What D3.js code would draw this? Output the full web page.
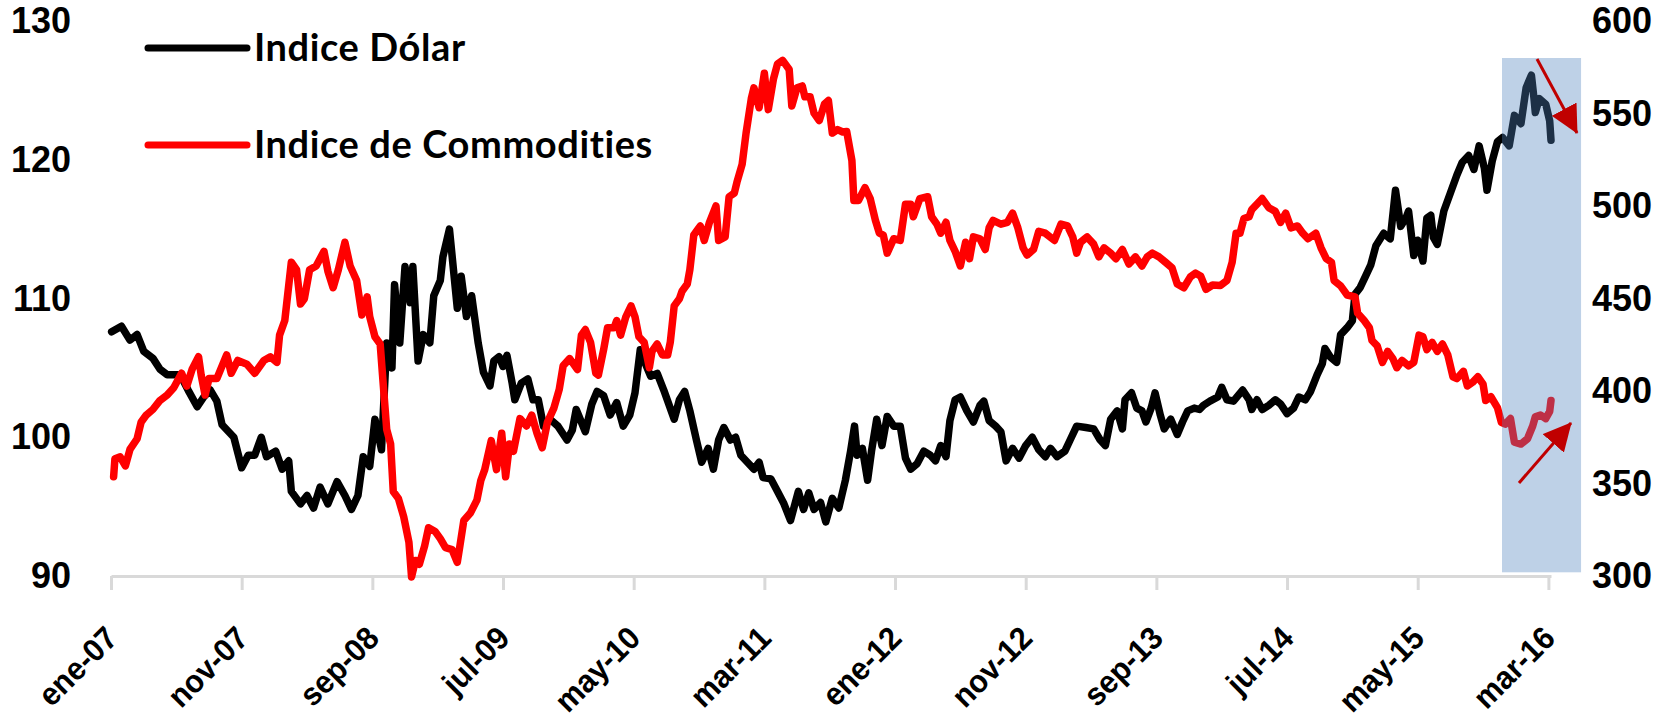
<!DOCTYPE html>
<html>
<head>
<meta charset="utf-8">
<script src="https://cdn.jsdelivr.net/npm/d3@7"></script>
<style>
  html, body { margin: 0; padding: 0; background: #fff; }
  svg { display: block; font-family: Lato, "Open Sans", sans-serif; font-weight: bold; font-variant-ligatures: none; }
</style>
</head>
<body>
<svg id="chart" width="1657" height="723"></svg>
<script>
// months counted from ene-07 (0 = 1 Jan 2007)
const tickMonths = [0, 10, 20, 30, 40, 50, 60, 70, 80, 90, 100, 110];
const tickLabels = ['ene-07', 'nov-07', 'sep-08', 'jul-09', 'may-10', 'mar-11',
                    'ene-12', 'nov-12', 'sep-13', 'jul-14', 'may-15', 'mar-16'];
const leftTicks  = [90, 100, 110, 120, 130];
const rightTicks = [300, 350, 400, 450, 500, 550, 600];
const seriesNames = ['Indice Dólar', 'Indice de Commodities'];

const dollarMonths = [
    0.05, 0.8, 1.45, 2.0, 2.5, 3.2, 3.75, 4.3, 5.3, 5.9,
    6.6, 7.1, 7.6, 8.1, 8.5, 9.4, 10.0, 10.5, 11.0, 11.5,
    11.9, 12.6, 13.1, 13.6, 13.8, 14.5, 15.0, 15.5, 16.0, 16.6,
    17.3, 17.9, 18.4, 18.9, 19.3, 19.8, 20.2, 20.7, 21.1, 21.5,
    21.7, 22.1, 22.5, 22.9, 23.1, 23.5, 23.9, 24.4, 24.7, 25.2,
    25.4, 25.9, 26.5, 26.8, 27.2, 27.6, 28.1, 28.5, 29.0, 29.3,
    29.7, 30.0, 30.3, 30.7, 30.9, 31.4, 31.9, 32.3, 32.7, 33.1,
    33.6, 34.2, 34.9, 35.3, 35.6, 36.3, 36.8, 37.2, 37.7, 38.2,
    38.7, 39.2, 39.7, 40.1, 40.5, 40.9, 41.3, 41.8, 42.3, 43.1,
    43.5, 43.9, 44.3, 44.8, 45.2, 45.7, 46.1, 46.5, 46.9, 47.4,
    47.8, 48.2, 48.7, 49.2, 49.6, 49.9, 50.5, 51.0, 51.5, 52.0,
    52.6, 53.0, 53.4, 53.8, 54.3, 54.7, 55.2, 55.7, 56.2, 56.6,
    56.9, 57.1, 57.5, 57.9, 58.2, 58.6, 59.0, 59.4, 59.9, 60.4,
    60.8, 61.2, 61.7, 62.2, 62.7, 63.1, 63.5, 63.9, 64.2, 64.6,
    65.0, 65.5, 66.0, 66.5, 66.8, 67.2, 67.7, 68.1, 68.5, 69.0,
    69.5, 70.0, 70.5, 71.0, 71.5, 71.9, 72.4, 73.0, 73.4, 73.9,
    74.6, 75.2, 75.7, 76.1, 76.5, 77.0, 77.4, 77.6, 78.1, 78.5,
    78.9, 79.2, 79.6, 79.9, 80.3, 80.6, 81.1, 81.6, 82.0, 82.4,
    82.9, 83.3, 83.6, 84.1, 84.7, 85.0, 85.4, 85.9, 86.6, 87.1,
    87.3, 87.7, 88.1, 88.6, 89.1, 89.5, 90.0, 90.5, 90.9, 91.4,
    91.8, 92.3, 92.7, 92.9, 93.3, 93.8, 94.1, 94.6, 95.0, 95.2,
    95.6, 96.0, 96.4, 96.8, 97.4, 97.9, 98.3, 98.7, 99.1, 99.3,
    99.7, 100.0, 100.4, 100.7, 101.0, 101.2, 101.5, 102.0, 102.5, 103.0,
    103.4, 103.9, 104.3, 104.7, 105.1, 105.3, 105.7, 106.1, 106.5, 107.0,
    107.4, 107.9, 108.3, 108.7, 108.9, 109.0, 109.3, 109.8, 110.1, 110.2
];
const dollarValues = [
    107.6, 108.0, 107.0, 107.4, 106.2, 105.7, 104.9, 104.5, 104.5, 103.4,
    102.2, 102.9, 103.4, 102.6, 100.9, 100.0, 97.8, 98.7, 98.7, 100.0,
    98.6, 99.0, 97.7, 98.3, 96.1, 95.2, 95.8, 94.9, 96.4, 95.2,
    96.8, 95.8, 94.8, 95.8, 98.6, 97.9, 101.3, 99.1, 106.8, 105.0,
    111.0, 106.8, 112.3, 109.7, 112.3, 105.5, 107.4, 106.8, 110.2, 111.3,
    113.0, 115.0, 109.3, 111.6, 108.7, 110.2, 106.8, 104.7, 103.7, 105.5,
    105.8, 105.1, 105.9, 103.9, 102.7, 103.9, 104.2, 102.7, 102.7, 100.8,
    101.3, 100.8, 99.8, 100.5, 102.0, 100.4, 102.4, 103.3, 103.0, 101.6,
    102.5, 100.8, 101.6, 103.2, 106.3, 105.3, 104.4, 104.6, 103.4, 101.3,
    102.7, 103.3, 101.9, 99.8, 98.2, 99.2, 97.7, 99.8, 100.7, 99.8,
    100.0, 98.7, 98.2, 97.7, 98.2, 97.1, 97.0, 96.1, 95.2, 94.0,
    96.1, 94.8, 96.0, 94.8, 95.3, 93.9, 95.6, 94.9, 96.9, 99.0,
    100.8, 98.7, 99.2, 96.9, 99.0, 101.3, 99.4, 101.5, 100.8, 100.8,
    98.5, 97.7, 98.1, 99.0, 98.7, 98.3, 99.4, 98.6, 101.2, 102.7,
    102.9, 101.9, 101.1, 102.3, 102.6, 101.2, 100.8, 100.4, 98.3, 99.2,
    98.5, 99.4, 100.0, 99.1, 98.6, 99.2, 98.6, 99.0, 99.8, 100.8,
    100.7, 100.6, 99.8, 99.4, 101.3, 101.9, 100.6, 102.7, 103.2, 102.1,
    101.9, 101.1, 102.1, 103.2, 101.6, 100.6, 101.3, 100.2, 101.1, 101.9,
    102.1, 102.0, 102.3, 102.6, 102.9, 103.6, 102.7, 102.6, 103.4, 102.7,
    102.0, 102.7, 102.0, 102.3, 102.7, 102.4, 101.7, 102.1, 102.9, 102.7,
    103.3, 104.5, 105.3, 106.4, 105.8, 105.4, 107.4, 107.9, 108.4, 110.3,
    110.8, 111.6, 112.4, 113.8, 114.7, 114.3, 117.8, 115.2, 115.8, 116.3,
    113.1, 114.2, 112.7, 115.8, 116.0, 114.4, 113.9, 116.3, 117.6, 118.9,
    119.8, 120.3, 119.3, 121.0, 119.4, 117.8, 119.9, 121.3, 121.6, 121.0,
    123.2, 122.6, 125.2, 126.1, 124.4, 123.4, 124.4, 124.0, 122.8, 121.4
];

const commMonths = [
    0.2, 0.3, 0.7, 1.1, 1.45, 2.0, 2.3, 2.7, 3.2, 3.75,
    4.3, 4.8, 5.4, 5.8, 6.2, 6.7, 6.9, 7.2, 7.5, 8.1,
    8.85, 9.2, 9.7, 10.4, 11.0, 11.7, 12.2, 12.7, 12.9, 13.3,
    13.8, 14.2, 14.5, 14.8, 15.2, 15.7, 16.3, 16.6, 17.0, 17.4,
    17.9, 18.3, 18.8, 19.2, 19.6, 19.8, 20.2, 20.6, 20.8, 21.1,
    21.4, 21.6, 22.0, 22.4, 22.8, 23.0, 23.3, 23.6, 24.0, 24.3,
    24.8, 25.2, 25.6, 26.1, 26.5, 26.7, 27.0, 27.5, 28.0, 28.3,
    28.6, 29.1, 29.5, 29.9, 30.2, 30.5, 30.8, 31.3, 31.8, 32.2,
    32.6, 33.0, 33.4, 33.9, 34.3, 34.6, 35.1, 35.7, 36.0, 36.3,
    36.7, 37.1, 37.3, 37.7, 38.0, 38.5, 38.7, 39.0, 39.4, 39.8,
    40.1, 40.4, 40.8, 41.2, 41.4, 41.8, 42.2, 42.6, 42.8, 43.1,
    43.5, 43.7, 44.1, 44.3, 44.6, 45.1, 45.4, 45.8, 46.3, 46.5,
    47.0, 47.3, 47.7, 47.9, 48.3, 48.6, 49.0, 49.2, 49.6, 50.0,
    50.3, 50.7, 51.0, 51.4, 51.9, 52.1, 52.5, 52.9, 53.1, 53.5,
    53.8, 54.2, 54.6, 54.9, 55.2, 55.6, 56.0, 56.3, 56.7, 56.85,
    57.2, 57.7, 58.1, 58.5, 58.8, 59.1, 59.4, 59.9, 60.4, 60.8,
    61.2, 61.4, 61.9, 62.5, 62.8, 63.2, 63.5, 63.9, 64.2, 64.6,
    65.0, 65.4, 65.7, 66.0, 66.5, 66.9, 67.2, 67.5, 68.1, 68.6,
    69.0, 69.4, 69.8, 70.1, 70.6, 71.0, 71.5, 72.2, 72.7, 73.2,
    73.6, 73.9, 74.2, 74.7, 75.2, 75.6, 76.0, 76.5, 76.9, 77.4,
    77.9, 78.4, 78.9, 79.3, 79.7, 80.2, 80.7, 81.2, 81.6, 82.1,
    82.6, 83.0, 83.4, 83.8, 84.3, 84.9, 85.4, 85.8, 86.1, 86.4,
    86.7, 87.1, 87.3, 87.7, 88.1, 88.6, 89.1, 89.5, 89.9, 90.3,
    90.8, 91.2, 91.6, 92.2, 92.6, 93.0, 93.4, 93.6, 94.1, 94.6,
    95.2, 95.4, 95.9, 96.3, 96.5, 96.9, 97.3, 97.7, 98.1, 98.4,
    98.8, 99.3, 99.7, 100.1, 100.4, 100.7, 101.1, 101.5, 101.9, 102.3,
    102.7, 103.0, 103.5, 103.8, 104.2, 104.6, 105.0, 105.2, 105.6, 106.1,
    106.4, 106.7, 107.1, 107.4, 107.9, 108.4, 108.8, 109.0, 109.4, 109.8,
    110.1, 110.2
];
const commValues = [
    353.6, 363.4, 364.4, 359.5, 368.4, 374.2, 383.1, 387.0, 390.0, 394.9,
    397.8, 401.8, 409.6, 402.7, 411.6, 418.5, 408.6, 397.8, 406.7, 406.7,
    419.5, 409.6, 416.5, 414.5, 409.6, 416.5, 418.5, 415.5, 430.2, 438.1,
    469.6, 465.6, 447.0, 449.9, 465.6, 467.6, 475.5, 464.7, 455.8, 465.6,
    480.4, 467.6, 459.7, 441.1, 450.9, 440.1, 429.3, 425.4, 406.7, 379.2,
    371.3, 345.7, 341.8, 332.0, 318.2, 299.5, 308.4, 306.4, 316.2, 326.1,
    324.1, 320.2, 315.3, 314.3, 307.4, 316.2, 330.0, 334.0, 341.0, 351.6,
    357.5, 373.2, 357.5, 377.2, 353.6, 371.3, 367.4, 385.1, 381.1, 387.0,
    377.2, 369.3, 383.1, 390.9, 400.8, 413.6, 417.5, 411.6, 430.2, 433.2,
    426.3, 409.6, 408.6, 422.4, 434.2, 434.2, 438.1, 430.2, 440.1, 446.0,
    440.1, 429.3, 426.3, 412.6, 421.4, 425.4, 419.5, 419.5, 426.3, 446.0,
    449.9, 453.9, 457.8, 465.6, 484.3, 489.2, 481.4, 491.2, 500.0, 481.4,
    483.3, 505.0, 506.9, 512.8, 522.6, 539.4, 558.0, 563.9, 553.1, 571.8,
    552.1, 568.8, 576.7, 578.7, 573.8, 554.1, 563.9, 564.9, 559.0, 559.0,
    550.2, 546.2, 555.1, 557.0, 539.4, 541.3, 540.0, 540.3, 524.6, 503.0,
    503.0, 509.9, 504.0, 492.2, 485.3, 484.3, 474.5, 482.3, 481.4, 501.0,
    501.0, 494.2, 504.0, 505.0, 494.2, 490.2, 485.3, 491.2, 481.4, 475.5,
    467.6, 480.4, 471.5, 483.3, 482.3, 476.5, 488.2, 492.2, 490.2, 491.2,
    496.1, 488.2, 477.4, 473.5, 476.5, 486.3, 485.3, 481.4, 490.2, 489.2,
    483.3, 474.5, 480.4, 483.3, 479.4, 472.5, 477.4, 474.5, 471.5, 476.5,
    468.6, 472.5, 467.6, 472.5, 474.5, 472.5, 469.6, 466.6, 457.8, 455.8,
    461.7, 463.7, 462.0, 455.0, 457.3, 457.0, 459.7, 469.6, 485.3, 485.3,
    493.2, 494.2, 498.1, 501.0, 504.0, 499.1, 497.1, 491.2, 496.1, 488.2,
    489.2, 485.3, 482.3, 485.3, 477.4, 471.5, 469.6, 459.7, 456.8, 451.9,
    450.9, 442.1, 438.1, 434.2, 427.3, 424.4, 415.5, 421.4, 417.5, 412.6,
    416.5, 413.6, 415.5, 430.2, 429.3, 422.4, 426.3, 421.4, 425.4, 419.5,
    407.7, 406.7, 410.6, 402.7, 404.7, 407.7, 403.7, 394.9, 396.9, 391.0,
    383.1, 382.1, 385.1, 372.3, 371.3, 374.2, 381.1, 386.0, 387.0, 385.1,
    389.0, 394.9
];

// highlighted window (months) and arrows (months, right-axis units)
const highlightMonths = [106.45, 112.5];
const highlightRange  = [302, 580];
const arrowFrom = [[109.13, 579.5], [107.75, 350.3]];
const arrowTo   = [[112.19, 539.5], [111.73, 382.7]];

const svg = d3.select('#chart');

const x      = d3.scaleLinear().domain([0, 110.2]).range([111, 1551]);
const yLeft  = d3.scaleLinear().domain([90, 130]).range([576, 21]);
const yRight = d3.scaleLinear().domain([300, 600]).range([576, 21]);

// x axis
let xAxis = svg.append('g')
    .attr('transform', 'translate(0,576)')
    .call(d3.axisBottom(x)
        .tickValues(tickMonths)
        .tickFormat((d, i) => tickLabels[i])
        .tickSize(14)
        .tickSizeOuter(0));
xAxis.select('.domain').attr('stroke', '#d9d9d9').attr('stroke-width', 3);
xAxis.selectAll('.tick line').attr('stroke', '#d9d9d9').attr('stroke-width', 3);
xAxis.selectAll('.tick text')
    .attr('x', 0).attr('y', 0).attr('dy', 0)
    .attr('text-anchor', 'end')
    .attr('transform', 'translate(8,64) rotate(-45) scale(0.95,1)')
    .attr('font-size', 32)
    .attr('font-weight', 'bold')
    .attr('fill', '#000');

// left axis
let leftAxis = svg.append('g')
    .attr('transform', 'translate(111,0)')
    .call(d3.axisLeft(yLeft).tickValues(leftTicks).tickSize(0).tickPadding(40));
leftAxis.select('.domain').remove();
leftAxis.selectAll('text').attr('font-size', 36).attr('font-weight', 'bold').attr('fill', '#000');

// right axis
let rightAxis = svg.append('g')
    .attr('transform', 'translate(1551,0)')
    .call(d3.axisRight(yRight).tickValues(rightTicks).tickSize(0).tickPadding(41));
rightAxis.select('.domain').remove();
rightAxis.selectAll('text').attr('font-size', 36).attr('font-weight', 'bold').attr('fill', '#000');

// series
let dollar = dollarMonths.map((m, i) => ({ m: m, v: dollarValues[i] }));
let comm   = commMonths.map((m, i) => ({ m: m, v: commValues[i] }));

svg.append('path')
    .datum(dollar)
    .attr('d', d3.line().x(d => x(d.m)).y(d => yLeft(d.v)))
    .attr('fill', 'none')
    .attr('stroke', '#000')
    .attr('stroke-width', 7.5)
    .attr('stroke-linejoin', 'round')
    .attr('stroke-linecap', 'round');

svg.append('path')
    .datum(comm)
    .attr('d', d3.line().x(d => x(d.m)).y(d => yRight(d.v)))
    .attr('fill', 'none')
    .attr('stroke', '#ff0000')
    .attr('stroke-width', 7.5)
    .attr('stroke-linejoin', 'round')
    .attr('stroke-linecap', 'round');

// highlight window
svg.append('rect')
    .attr('x', x(highlightMonths[0]))
    .attr('y', yRight(highlightRange[1]))
    .attr('width', x(highlightMonths[1]) - x(highlightMonths[0]))
    .attr('height', yRight(highlightRange[0]) - yRight(highlightRange[1]))
    .attr('fill', '#4f81bd')
    .attr('fill-opacity', 0.37);

// arrows
svg.append('defs').append('marker')
    .attr('id', 'arrowhead')
    .attr('markerUnits', 'userSpaceOnUse')
    .attr('markerWidth', 28)
    .attr('markerHeight', 28)
    .attr('viewBox', '0 0 28 28')
    .attr('refX', 27)
    .attr('refY', 14)
    .attr('orient', 'auto')
    .append('path')
    .attr('d', 'M0,0 L28,14 L0,28 Z')
    .attr('fill', '#c00000');

arrowFrom.forEach((from, i) => {
    svg.append('line')
        .attr('x1', x(from[0])).attr('y1', yRight(from[1]))
        .attr('x2', x(arrowTo[i][0])).attr('y2', yRight(arrowTo[i][1]))
        .attr('stroke', '#c00000')
        .attr('stroke-width', 3)
        .attr('marker-end', 'url(#arrowhead)');
});

// legend
const legendColors = ['#000', '#ff0000'];
let legend = svg.append('g');
seriesNames.forEach((name, i) => {
    let ly = 48 + i * 97;
    legend.append('line')
        .attr('x1', 148).attr('x2', 247)
        .attr('y1', ly).attr('y2', ly)
        .attr('stroke', legendColors[i])
        .attr('stroke-width', 7)
        .attr('stroke-linecap', 'round');
    legend.append('text')
        .attr('x', 254).attr('y', ly + 13)
        .attr('font-size', 38)
        .attr('font-weight', 'bold')
        .attr('letter-spacing', 0.6)
        .text(name);
});
</script>
</body>
</html>
